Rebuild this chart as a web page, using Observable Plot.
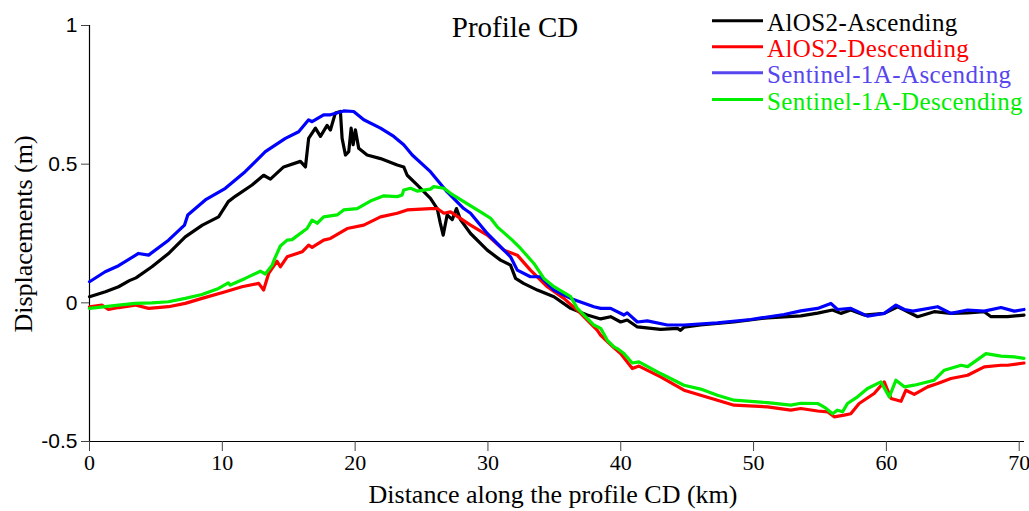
<!DOCTYPE html>
<html>
<head>
<meta charset="utf-8">
<script src="https://cdn.jsdelivr.net/npm/d3@7"></script>
<script src="https://cdn.jsdelivr.net/npm/@observablehq/plot@0.6"></script>
<style>
  body { margin: 0; background: white; }
  #chart { width: 1029px; height: 511px; }
</style>
</head>
<body>
<div id="chart"></div>
<script>
// ---- Data (distance in km, displacement in m) ----
const seriesNames = ["AlOS2-Ascending", "AlOS2-Descending", "Sentinel-1A-Ascending", "Sentinel-1A-Descending"];
const lineColors = ["#000000", "#ff0000", "#0000ff", "#00ee00"];
const legendColors = ["#000000", "#ff0000", "#5646ee", "#00ee00"];

const xTicks = [0, 10, 20, 30, 40, 50, 60, 70];
const yTicks = [-0.5, 0, 0.5, 1];

const distAlosAsc = [0, 1.2, 2.19, 3.0, 3.5, 4.7, 6.0, 7.21, 8.5, 9.72, 10.45, 11.0, 12.24, 13.11, 13.62, 14.62, 15.88, 16.26, 16.5, 17.01, 17.39, 17.89, 18.14, 18.51, 18.89, 19.02, 19.27, 19.52, 19.70, 19.85, 20.02, 20.27, 20.9, 21.91, 23.17, 23.66, 23.92, 24.67, 25.67, 26.18, 26.4, 26.63, 26.93, 27.31, 27.63, 27.93, 28.69, 29.95, 30.95, 31.7, 32.08, 32.68, 33.72, 34.97, 36.23, 37.48, 38.49, 39.24, 39.99, 40.49, 41.25, 43.0, 44.27, 44.5, 44.76, 46.02, 48.53, 51.05, 53.56, 54.82, 55.95, 56.57, 57.32, 58.33, 59.84, 60.85, 61.35, 62.35, 63.6, 64.86, 66.12, 67.37, 67.88, 69.13, 70.36];
const dispAlosAsc = [0.022, 0.04, 0.058, 0.08, 0.09, 0.13, 0.18, 0.238, 0.28, 0.31, 0.365, 0.385, 0.425, 0.46, 0.446, 0.49, 0.51, 0.49, 0.593, 0.63, 0.6, 0.64, 0.623, 0.684, 0.69, 0.593, 0.533, 0.545, 0.63, 0.57, 0.624, 0.557, 0.533, 0.52, 0.497, 0.49, 0.46, 0.425, 0.377, 0.34, 0.29, 0.244, 0.317, 0.30, 0.34, 0.30, 0.25, 0.19, 0.154, 0.136, 0.088, 0.07, 0.046, 0.022, -0.02, -0.044, -0.058, -0.05, -0.069, -0.062, -0.087, -0.096, -0.092, -0.099, -0.088, -0.08, -0.069, -0.054, -0.047, -0.037, -0.026, -0.038, -0.026, -0.044, -0.038, -0.014, -0.026, -0.05, -0.032, -0.038, -0.036, -0.032, -0.05, -0.05, -0.044];

const distAlosDesc = [0, 0.93, 1.43, 2.19, 3.44, 4.45, 5.95, 7.21, 8.47, 10.23, 11.48, 12.74, 13.11, 13.49, 14.12, 14.37, 14.88, 16.01, 16.5, 16.76, 17.63, 18.14, 19.40, 20.65, 21.91, 23.17, 23.92, 25.67, 26.18, 26.68, 27.18, 28.69, 29.95, 31.2, 32.21, 33.2, 34.47, 35.72, 36.98, 38.24, 38.49, 39.49, 39.99, 40.87, 41.37, 43.0, 44.76, 46.02, 47.28, 48.53, 51.05, 52.8, 53.56, 54.82, 55.57, 56.07, 56.82, 57.32, 57.95, 59.08, 59.84, 60.35, 61.1, 61.47, 62.1, 63.11, 63.86, 64.86, 66.12, 67.37, 68.63, 69.13, 70.36];
const dispAlosDesc = [-0.014, -0.008, -0.024, -0.017, -0.008, -0.02, -0.014, -0.002, 0.016, 0.04, 0.058, 0.07, 0.046, 0.106, 0.15, 0.13, 0.166, 0.184, 0.208, 0.2, 0.226, 0.232, 0.268, 0.28, 0.31, 0.323, 0.335, 0.34, 0.34, 0.323, 0.328, 0.28, 0.244, 0.19, 0.172, 0.118, 0.058, 0.016, -0.038, -0.099, -0.117, -0.162, -0.183, -0.237, -0.228, -0.267, -0.315, -0.333, -0.351, -0.369, -0.375, -0.387, -0.381, -0.39, -0.393, -0.411, -0.405, -0.40, -0.363, -0.327, -0.285, -0.345, -0.355, -0.315, -0.33, -0.303, -0.291, -0.273, -0.261, -0.231, -0.225, -0.225, -0.217];

const distS1Asc = [0, 1.18, 2.19, 3.69, 4.45, 5.95, 7.15, 7.4, 8.72, 10.23, 11.72, 13.24, 14.75, 15.75, 16.5, 16.76, 17.63, 18.14, 19.14, 19.89, 20.65, 21.91, 22.91, 23.66, 24.3, 25.67, 26.93, 28.18, 28.69, 29.95, 31.7, 32.21, 33.2, 33.96, 34.97, 36.23, 37.98, 38.49, 39.24, 40.24, 40.49, 41.25, 42.0, 43.51, 44.76, 47.28, 49.79, 52.3, 53.56, 54.82, 55.82, 56.32, 57.32, 58.58, 59.84, 60.72, 61.35, 62.0, 63.86, 64.86, 66.12, 67.37, 68.63, 69.63, 70.36];
const dispS1Asc = [0.076, 0.112, 0.134, 0.178, 0.172, 0.226, 0.28, 0.317, 0.371, 0.413, 0.473, 0.545, 0.593, 0.617, 0.66, 0.653, 0.678, 0.678, 0.692, 0.69, 0.66, 0.63, 0.6, 0.57, 0.533, 0.473, 0.40, 0.34, 0.323, 0.25, 0.166, 0.118, 0.094, 0.094, 0.046, 0.016, -0.014, -0.02, -0.02, -0.044, -0.036, -0.069, -0.065, -0.08, -0.08, -0.072, -0.06, -0.042, -0.029, -0.02, -0.002, -0.024, -0.02, -0.048, -0.038, -0.008, -0.024, -0.03, -0.014, -0.038, -0.026, -0.03, -0.017, -0.03, -0.024];

const distS1Desc = [0, 1.18, 2.19, 3.44, 4.70, 5.95, 7.21, 8.47, 9.72, 10.45, 10.6, 11.72, 12.86, 13.24, 13.75, 13.95, 14.37, 14.88, 15.25, 16.38, 16.76, 17.14, 17.63, 18.64, 19.14, 20.15, 21.15, 22.16, 23.17, 23.54, 23.66, 24.17, 24.67, 25.67, 25.92, 26.68, 27.18, 28.18, 29.19, 29.44, 30.2, 30.70, 31.83, 32.46, 33.46, 34.21, 34.97, 36.23, 36.73, 37.98, 38.49, 38.99, 39.49, 39.74, 40.24, 40.87, 41.37, 43.0, 44.76, 46.02, 47.28, 48.53, 51.05, 52.8, 53.56, 54.82, 55.06, 55.44, 55.95, 56.32, 56.7, 57.07, 57.83, 58.58, 59.59, 60.22, 60.72, 61.35, 62.1, 63.6, 64.36, 65.62, 66.12, 67.5, 68.63, 69.63, 70.36];
const dispS1Desc = [-0.02, -0.014, -0.008, -0.002, 0, 0.004, 0.016, 0.03, 0.052, 0.072, 0.064, 0.088, 0.114, 0.104, 0.136, 0.16, 0.205, 0.226, 0.228, 0.268, 0.298, 0.287, 0.31, 0.317, 0.335, 0.34, 0.367, 0.386, 0.383, 0.389, 0.407, 0.413, 0.403, 0.41, 0.419, 0.413, 0.395, 0.365, 0.335, 0.328, 0.305, 0.274, 0.226, 0.196, 0.142, 0.088, 0.058, 0.022, -0.02, -0.08, -0.092, -0.135, -0.159, -0.165, -0.183, -0.217, -0.213, -0.255, -0.297, -0.311, -0.333, -0.351, -0.36, -0.369, -0.362, -0.363, -0.369, -0.38, -0.40, -0.387, -0.393, -0.363, -0.339, -0.309, -0.285, -0.339, -0.279, -0.303, -0.297, -0.279, -0.243, -0.225, -0.23, -0.183, -0.192, -0.195, -0.2];

const dists = [distAlosAsc, distAlosDesc, distS1Asc, distS1Desc];
const disps = [dispAlosAsc, dispAlosDesc, dispS1Asc, dispS1Desc];

const rows = [];
seriesNames.forEach((name, i) => {
  dists[i].forEach((d, j) => rows.push({series: name, x: d, y: disps[i][j]}));
});

const chart = Plot.plot({
  width: 1029,
  height: 511,
  marginLeft: 89,
  marginRight: 5,
  marginTop: 25,
  marginBottom: 70,
  style: {background: "white", color: "black", fontFamily: "'Liberation Serif', 'Times New Roman', serif"},
  x: {domain: [0, 70.4]},
  y: {domain: [-0.5, 1]},
  color: {domain: seriesNames, range: lineColors},
  marks: [
    Plot.ruleY([-0.5], {stroke: "black", strokeWidth: 1.2}),
    Plot.ruleX([0], {stroke: "black", strokeWidth: 1.2}),
    Plot.axisX({ticks: xTicks, tickSize: 10, tickPadding: 3, fontSize: 22, fontFamily: "'Liberation Serif', serif", tickFormat: d => String(d), label: null, stroke: "#444"}),
    Plot.axisY({ticks: yTicks, tickSize: 8, tickPadding: 4, fontSize: 21, fontFamily: "'Liberation Sans', Arial, sans-serif", tickFormat: d => String(d), label: null, stroke: "#444"}),
    Plot.line(rows, {x: "x", y: "y", z: "series", stroke: "series", strokeWidth: 3.2, strokeLinejoin: "round"})
  ]
});

document.getElementById("chart").appendChild(chart);

// Title, axis titles and legend
const svg = d3.select(chart);
const serif = "'Liberation Serif', 'Times New Roman', serif";
svg.append("text").attr("x", 515).attr("y", 37).attr("text-anchor", "middle")
  .style("font-family", serif).style("font-size", "29px").attr("fill", "black").text("Profile CD");
svg.append("text").attr("x", 553).attr("y", 503).attr("text-anchor", "middle")
  .style("font-family", serif).style("font-size", "26px").attr("fill", "black").text("Distance along the profile CD (km)");
svg.append("text").attr("transform", "translate(32,234) rotate(-90)").attr("text-anchor", "middle")
  .style("font-family", serif).style("font-size", "26px").attr("fill", "black").text("Displacements (m)");

const legendY = [20.7, 46.7, 72.7, 99.5];
seriesNames.forEach((name, i) => {
  svg.append("line").attr("x1", 712).attr("x2", 763).attr("y1", legendY[i]).attr("y2", legendY[i])
    .attr("stroke", legendColors[i]).attr("stroke-width", 3);
  svg.append("text").attr("x", 767).attr("y", legendY[i] + 10).attr("text-anchor", "start")
    .style("text-anchor", "start").style("letter-spacing", "0.4px")
    .style("font-family", serif).style("font-size", "25px").attr("fill", legendColors[i]).text(name);
});
</script>
</body>
</html>
